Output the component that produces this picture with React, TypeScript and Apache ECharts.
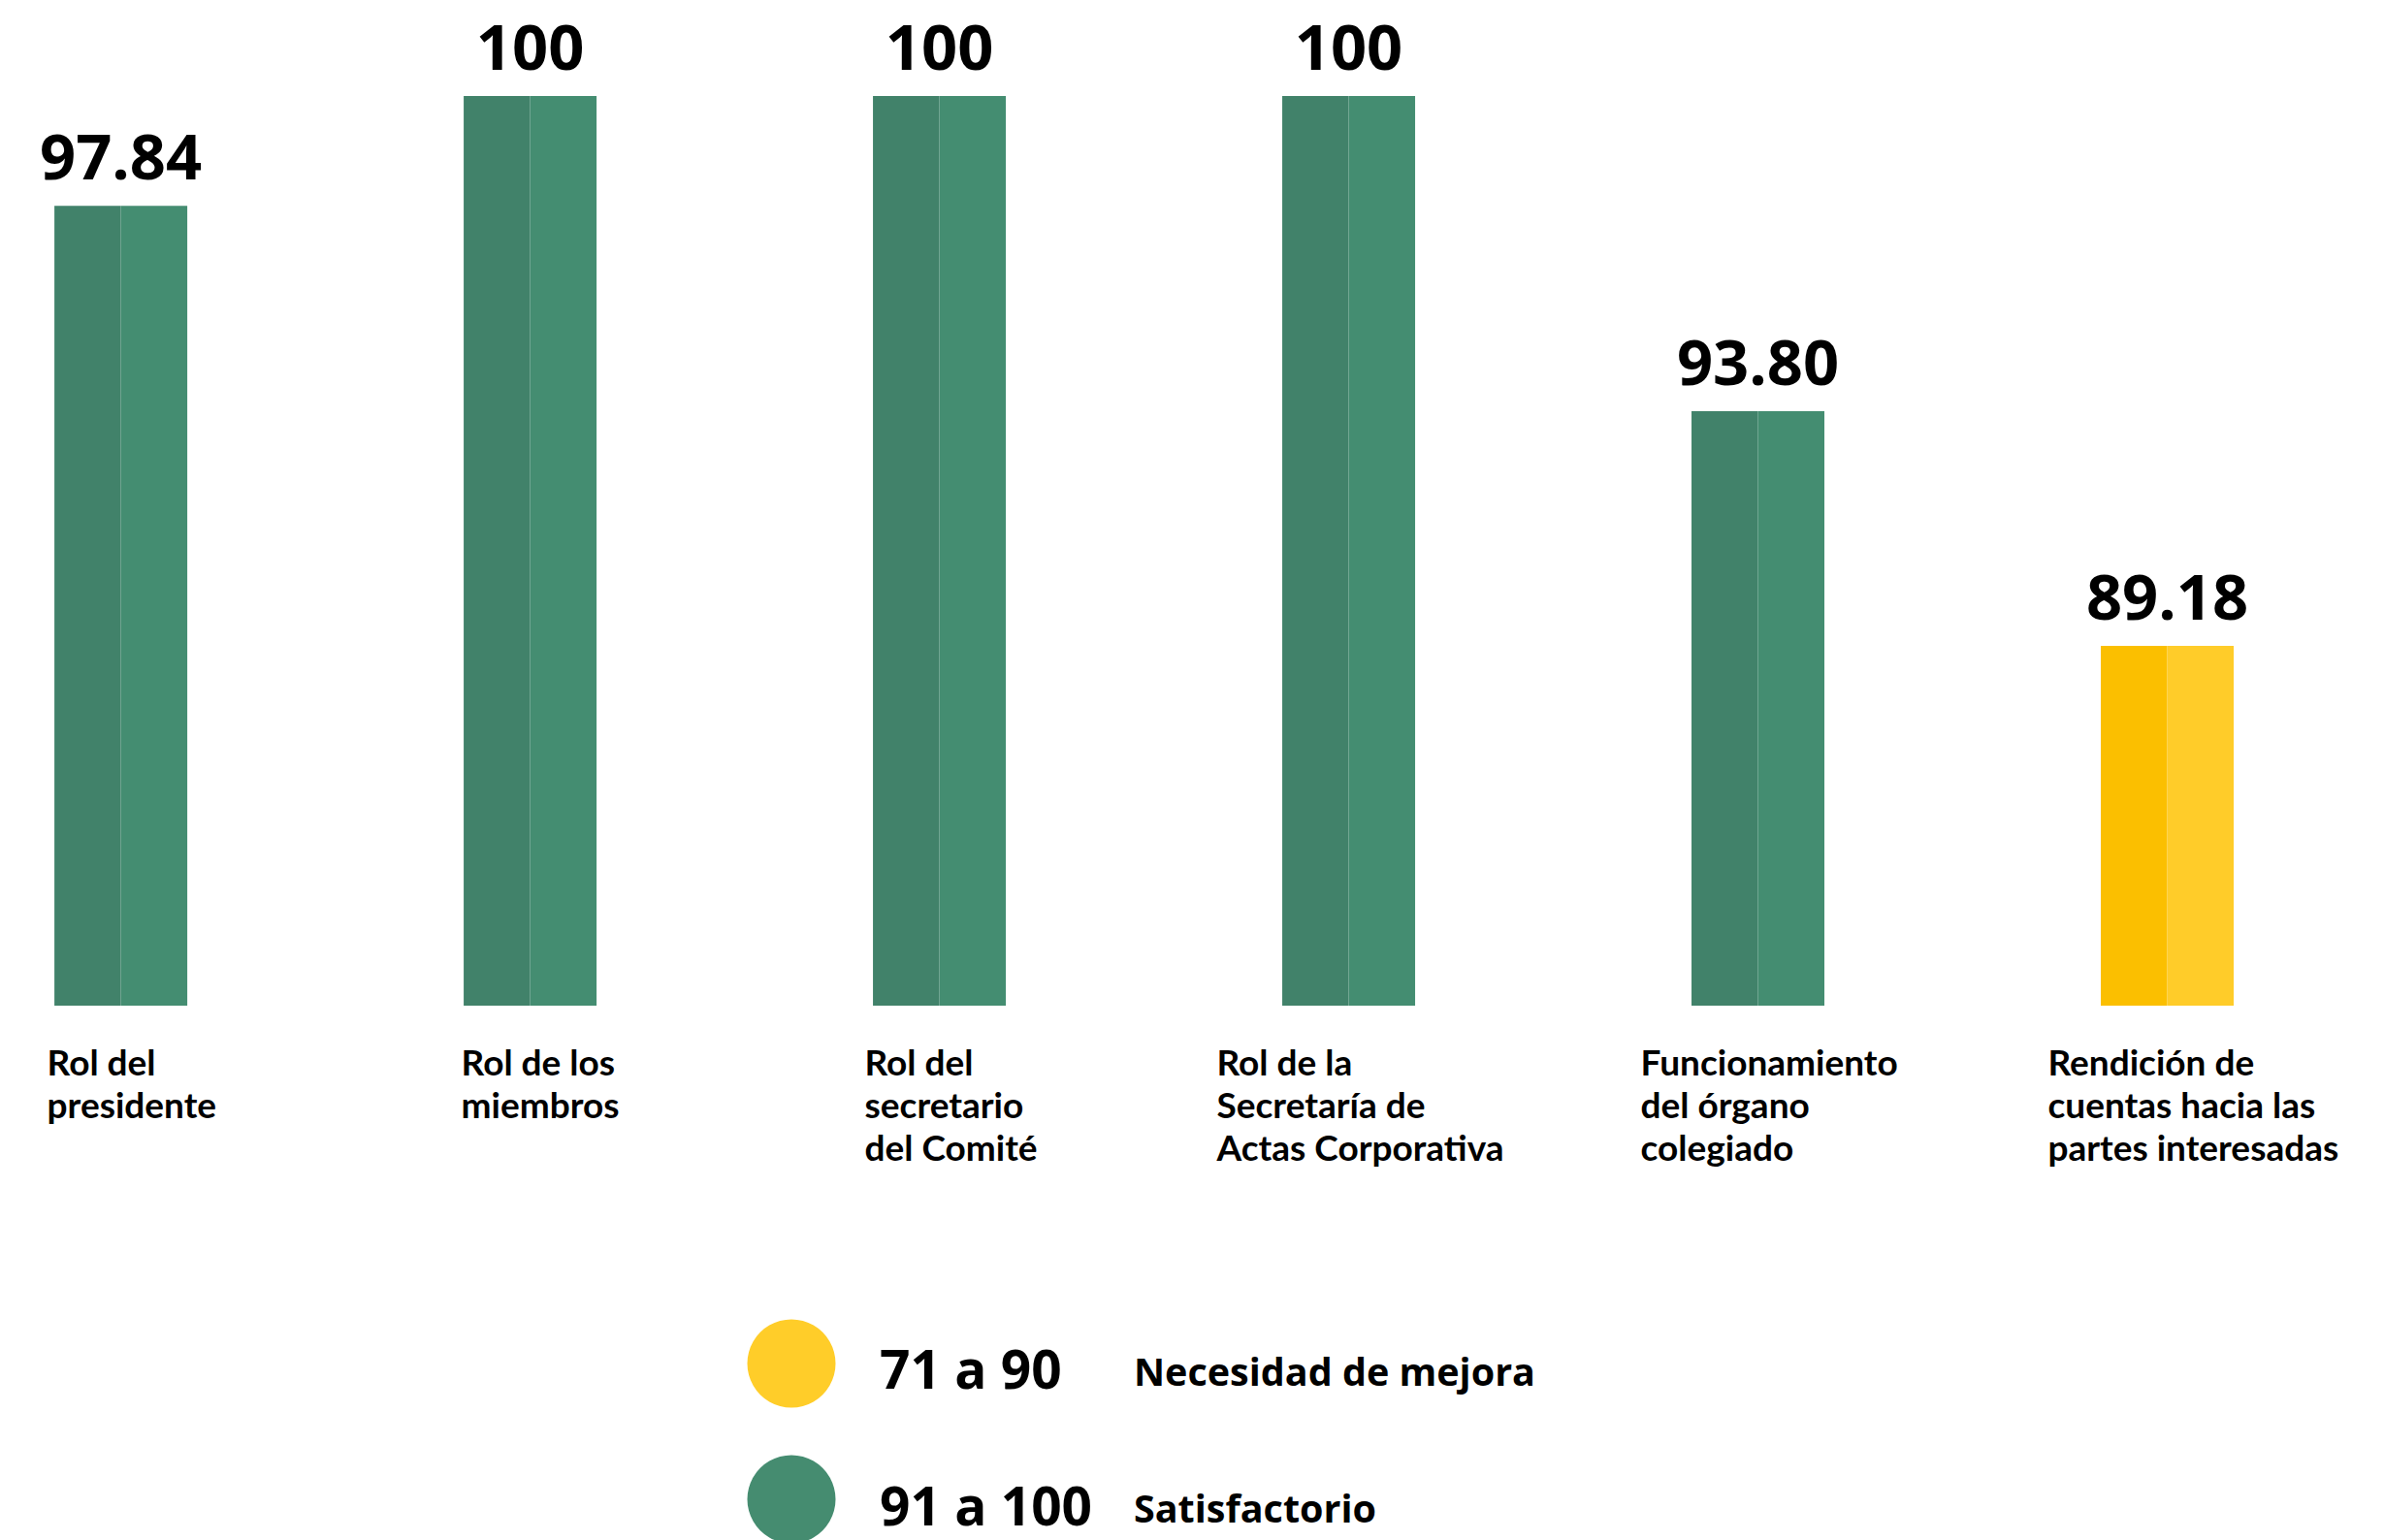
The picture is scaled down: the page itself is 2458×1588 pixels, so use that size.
import React, { useEffect, useRef } from "react";
import * as echarts from "echarts";

// ---- data ----
const categories = [
  "Rol del\npresidente",
  "Rol de los\nmiembros",
  "Rol del\nsecretario\ndel Comité",
  "Rol de la\nSecretaría de\nActas Corporativa",
  "Funcionamiento\ndel órgano\ncolegiado",
  "Rendición de\ncuentas hacia las\npartes interesadas",
];
const scores = [97.84, 100, 100, 100, 93.8, 89.18];
const scoreLabels = ["97.84", "100", "100", "100", "93.80", "89.18"];
const legendRanges = ["71 a 90", "91 a 100"];
const legendNames = ["Necesidad de mejora", "Satisfactorio"];
const bandThreshold = 91;
const axisMin = 82.1;
const axisMax = 100;

// ---- styles ----
const GREEN_DARK = "#41826A";
const GREEN_LIGHT = "#448D71";
const YELLOW_DARK = "#FBBF00";
const YELLOW_LIGHT = "#FFCC29";
const LEGEND_COLORS = ["#FFCD29", "#458C70"];
const LABEL_SHIFT = [-76, -71, -77, -136, -121, -123];

export default function App() {
  const ref = useRef<HTMLDivElement>(null);
  useEffect(() => {
    document.body.style.margin = "0";
    const chart = echarts.init(ref.current as HTMLDivElement, null, { renderer: "svg" });
    const isGood = (v: number) => v >= bandThreshold;
    chart.setOption({
      animation: false,
      backgroundColor: "#ffffff",
      grid: { left: 124.6, right: 223.5, top: 99, bottom: 551, containLabel: false },
      xAxis: {
        type: "category",
        boundaryGap: false,
        data: categories,
        axisLine: { show: false },
        axisTick: { show: false },
        splitLine: { show: false },
        axisLabel: { show: false },
      },
      yAxis: {
        type: "value",
        min: axisMin,
        max: axisMax,
        startValue: axisMin,
        show: false,
        splitLine: { show: false },
      },
      series: [
        {
          type: "bar",
          name: "izquierda",
          data: scores,
          barWidth: 68.5,
          barGap: "0%",
          clip: false,
          itemStyle: { color: (p: any) => (isGood(p.value) ? GREEN_DARK : YELLOW_DARK) },
          label: {
            show: true,
            position: "top",
            distance: 27,
            offset: [34.25, 0],
            formatter: (p: any) => scoreLabels[p.dataIndex],
            fontFamily: "Open Sans",
            fontWeight: 700,
            fontSize: 65,
            lineHeight: 50,
            color: "#000",
          },
        },
        {
          type: "bar",
          name: "derecha",
          data: scores,
          barWidth: 68.5,
          barGap: "0%",
          clip: false,
          itemStyle: { color: (p: any) => (isGood(p.value) ? GREEN_LIGHT : YELLOW_LIGHT) },
        },
      ],
    });

    const baseY = chart.convertToPixel({ yAxisIndex: 0 }, axisMin) as number;
    const catLabels = categories.map((c, i) => {
      const cx = chart.convertToPixel({ xAxisIndex: 0 }, i) as number;
      return {
        type: "text",
        x: cx + LABEL_SHIFT[i],
        y: baseY + 35,
        style: {
          text: c,
          fontFamily: "Lato",
          fontWeight: 700,
          fontSize: 37,
          lineHeight: 44,
          fill: "#000",
          align: "left",
          verticalAlign: "top",
        },
      };
    });

    const legend = legendRanges.flatMap((r, i) => [
      {
        type: "circle",
        shape: { cx: 816, cy: 1406 + i * 140, r: 45.5 },
        style: { fill: LEGEND_COLORS[i] },
      },
      {
        type: "text",
        x: 907,
        y: 1410 + i * 141,
        style: {
          text: r,
          fontFamily: "Open Sans",
          fontWeight: 700,
          fontSize: 55,
          fill: "#000",
          verticalAlign: "middle",
        },
      },
      {
        type: "text",
        x: 1169,
        y: 1414 + i * 141,
        style: {
          text: legendNames[i],
          fontFamily: "Open Sans",
          fontWeight: 700,
          fontSize: 39.5,
          fill: "#000",
          verticalAlign: "middle",
        },
      },
    ]);

    chart.setOption({ graphic: [...catLabels, ...legend] });
    return () => chart.dispose();
  }, []);
  return <div ref={ref} style={{ width: 2458, height: 1588 }} />;
}
